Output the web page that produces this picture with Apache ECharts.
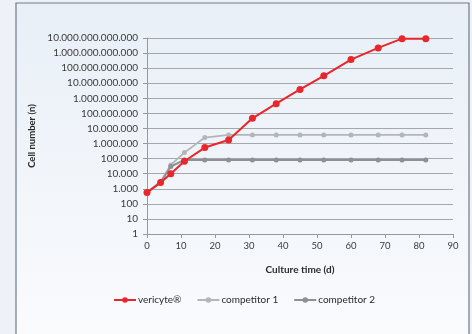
<!DOCTYPE html>
<html><head><meta charset="utf-8">
<script src="https://cdn.jsdelivr.net/npm/echarts@6/dist/echarts.min.js"></script>
<style>html,body{margin:0;padding:0;background:#eef2f8;}#c{width:472px;height:334px;}</style>
</head><body><div id="c"></div>
<script>
const days = [0, 4, 7, 11, 17, 24, 31, 38, 45, 52, 60, 68, 75, 82];
const vericyte = [560, 2600, 10000, 67000, 540000, 1700000, 47000000, 440000000, 3900000000, 31000000000, 370000000000, 2200000000000, 9000000000000, 9000000000000];
const competitor1 = [600, 3000, 38000, 250000, 2500000, 3700000, 3700000, 3700000, 3700000, 3700000, 3700000, 3700000, 3700000, 3700000];
const competitor2 = [560, 2500, 30000, 82000, 82000, 82000, 82000, 82000, 82000, 82000, 82000, 82000, 82000, 82000];
const seriesNames = ['vericyte®', 'competitor 1', 'competitor 2'];
const xTitle = 'Culture time (d)';
const yTitle = 'Cell number (n)';

function pair(ys){ return days.map((d,i)=>[d, ys[i]]); }
function fmt(v){ return String(Math.round(v)).replace(/\B(?=(\d{3})+(?!\d))/g, '.'); }

const chart = echarts.init(document.getElementById('c'), null, {renderer:'canvas'});
const font = 'Lato, "Open Sans", sans-serif';
chart.setOption({
  backgroundColor: '#eef2f8',
  animation: false,
  textStyle: {fontFamily: font},
  graphic: [{
    type: 'rect', shape: {x: 16, y: 3, width: 453, height: 340},
    style: {fill: new echarts.graphic.LinearGradient(0,0,0,1,[{offset:0,color:'#e8eff7'},{offset:1,color:'#fafbfd'}]), stroke: '#6f7a87', lineWidth: 1.2},
    z: -10
  }],
  grid: {left: 147, right: 19, top: 38, bottom: 100},
  legend: {
    left: 108, top: 290, itemGap: 15, itemWidth: 22, itemHeight: 7,
    textStyle: {fontSize: 10, color: '#2a2a2a', fontFamily: font, padding: [0,0,0,-3]},
    data: seriesNames
  },
  xAxis: {
    type: 'value', min: 0, max: 90, interval: 10,
    name: xTitle, nameLocation: 'middle', nameGap: 31,
    nameTextStyle: {fontSize: 10, fontWeight: 'bold', color: '#2a2a2a'},
    axisLine: {lineStyle: {color: '#999', width: 1}},
    axisTick: {show: true, length: 4, lineStyle: {color: '#999'}},
    axisLabel: {fontSize: 9.5, color: '#3a3a3a', margin: 7},
    splitLine: {show: false}
  },
  yAxis: {
    type: 'log', logBase: 10, min: 1, max: 1e13, interval: 1,
    name: yTitle, nameLocation: 'middle', nameGap: 106, nameRotate: 90,
    nameTextStyle: {fontSize: 9.5, fontWeight: 'bold', color: '#2a2a2a'},
    axisLine: {show: true, lineStyle: {color: '#999', width: 1}},
    axisTick: {show: true, length: 4, lineStyle: {color: '#999'}},
    axisLabel: {fontSize: 10, color: '#3a3a3a', margin: 9, formatter: fmt},
    splitLine: {show: true, lineStyle: {color: '#a4a8ad', width: 1}}
  },
  series: [
    {name: seriesNames[1], type: 'line', data: pair(competitor1), symbol: 'circle', symbolSize: 5,
     itemStyle: {color: '#b3b5b8'}, lineStyle: {color: '#b3b5b8', width: 1.8}, z: 2},
    {name: seriesNames[2], type: 'line', data: pair(competitor2), symbol: 'circle', symbolSize: 5,
     itemStyle: {color: '#8e9094'}, lineStyle: {color: '#8e9094', width: 2}, z: 3},
    {name: seriesNames[0], type: 'line', data: pair(vericyte), symbol: 'circle', symbolSize: 7,
     itemStyle: {color: '#e8262b'}, lineStyle: {color: '#e8262b', width: 2}, z: 4}
  ]
});
</script></body></html>
